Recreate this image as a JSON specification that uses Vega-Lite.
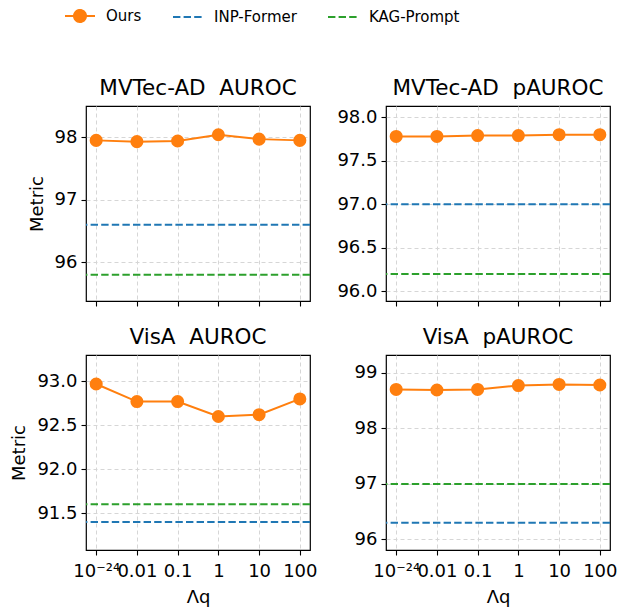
{
  "$schema": "https://vega.github.io/schema/vega-lite/v6.json",
  "padding": {"left": 10, "top": 0, "right": 5, "bottom": 5},
  "data": {"values": [
    {"panel": "A", "series": "Ours", "lam": "10⁻²⁴", "value": 97.95},
    {"panel": "A", "series": "Ours", "lam": "0.01", "value": 97.93},
    {"panel": "A", "series": "Ours", "lam": "0.1", "value": 97.94},
    {"panel": "A", "series": "Ours", "lam": "1", "value": 98.04},
    {"panel": "A", "series": "Ours", "lam": "10", "value": 97.97},
    {"panel": "A", "series": "Ours", "lam": "100", "value": 97.95},
    {"panel": "A", "series": "INP-Former", "value": 96.6},
    {"panel": "A", "series": "KAG-Prompt", "value": 95.8},
    {"panel": "B", "series": "Ours", "lam": "10⁻²⁴", "value": 97.78},
    {"panel": "B", "series": "Ours", "lam": "0.01", "value": 97.78},
    {"panel": "B", "series": "Ours", "lam": "0.1", "value": 97.79},
    {"panel": "B", "series": "Ours", "lam": "1", "value": 97.79},
    {"panel": "B", "series": "Ours", "lam": "10", "value": 97.80},
    {"panel": "B", "series": "Ours", "lam": "100", "value": 97.80},
    {"panel": "B", "series": "INP-Former", "value": 97.0},
    {"panel": "B", "series": "KAG-Prompt", "value": 96.2},
    {"panel": "C", "series": "Ours", "lam": "10⁻²⁴", "value": 92.97},
    {"panel": "C", "series": "Ours", "lam": "0.01", "value": 92.77},
    {"panel": "C", "series": "Ours", "lam": "0.1", "value": 92.77},
    {"panel": "C", "series": "Ours", "lam": "1", "value": 92.60},
    {"panel": "C", "series": "Ours", "lam": "10", "value": 92.62},
    {"panel": "C", "series": "Ours", "lam": "100", "value": 92.80},
    {"panel": "C", "series": "INP-Former", "value": 91.4},
    {"panel": "C", "series": "KAG-Prompt", "value": 91.6},
    {"panel": "D", "series": "Ours", "lam": "10⁻²⁴", "value": 98.70},
    {"panel": "D", "series": "Ours", "lam": "0.01", "value": 98.69},
    {"panel": "D", "series": "Ours", "lam": "0.1", "value": 98.70},
    {"panel": "D", "series": "Ours", "lam": "1", "value": 98.77},
    {"panel": "D", "series": "Ours", "lam": "10", "value": 98.79},
    {"panel": "D", "series": "Ours", "lam": "100", "value": 98.78},
    {"panel": "D", "series": "INP-Former", "value": 96.3},
    {"panel": "D", "series": "KAG-Prompt", "value": 97.0}
  ]},
  "columns": 2,
  "spacing": {"row": 17, "column": 18},
  "config": {
    "font": "DejaVu Sans",
    "view": {"stroke": "#000", "strokeWidth": 1.2},
    "axis": {"grid": true, "gridColor": "#d6d6d6", "gridDash": [4, 3], "gridWidth": 1, "domain": false, "tickColor": "#000", "tickSize": 5, "tickWidth": 1.1, "labelFontSize": 18, "labelColor": "#000", "titleFontSize": 18, "titleFontWeight": "normal", "titleColor": "#000", "labelPadding": 4},
    "title": {"fontSize": 21.5, "fontWeight": "normal", "color": "#000", "offset": 7}
  },
  "concat": [
    {
      "title": "MVTec-AD\u00a0\u00a0AUROC", "width": 224, "height": 195,
      "transform": [{"filter": "datum.panel === 'A'"}],
      "encoding": {
        "y": {"field": "value", "type": "quantitative", "scale": {"domain": [95.38, 98.5], "nice": false, "zero": false}, "axis": {"values": [96, 97, 98], "title": "Metric", "titlePadding": 8}},
        "color": {"field": "series", "type": "nominal", "scale": {"domain": ["Ours", "INP-Former", "KAG-Prompt"], "range": ["#ff7f0e", "#1f77b4", "#2ca02c"]},
          "legend": {"title": null, "orient": "none", "legendX": -22, "legendY": -106, "direction": "horizontal", "labelFontSize": 15, "symbolSize": 900, "symbolStrokeWidth": 2, "labelOffset": 10, "columnPadding": 27, "symbolType": "stroke",
            "encode": {"symbols": {"update": {
              "shape": {"signal": "datum.value === 'Ours' ? 'M-1,0H1M-0.4,0A0.4,0.4,0,1,0,0.4,0A0.4,0.4,0,1,0,-0.4,0Z' : 'stroke'"},
              "fill": {"signal": "datum.value === 'Ours' ? '#ff7f0e' : 'transparent'"},
              "strokeDash": {"signal": "datum.value === 'Ours' ? [1,0] : [7.4,3.2]"},
              "strokeWidth": {"value": 2},
              "opacity": {"value": 1}
            }}}}}
      },
      "layer": [
        {"transform": [{"filter": "datum.series !== 'Ours'"}], "mark": {"type": "rule", "strokeDash": [7.4, 3.2], "strokeWidth": 2}},
        {"transform": [{"filter": "datum.series === 'Ours'"}], "mark": {"type": "line", "strokeWidth": 2},
          "encoding": {"x": {"field": "lam", "type": "ordinal", "sort": ["10⁻²⁴", "0.01", "0.1", "1", "10", "100"], "scale": {"type": "point", "padding": 0.25}, "axis": {"labels": false, "title": null}}}},
        {"transform": [{"filter": "datum.series === 'Ours'"}], "mark": {"type": "point", "filled": true, "size": 170, "opacity": 1},
          "encoding": {"x": {"field": "lam", "type": "ordinal", "sort": ["10⁻²⁴", "0.01", "0.1", "1", "10", "100"], "scale": {"type": "point", "padding": 0.25}, "axis": {"labels": false, "title": null}}}}
      ]
    },
    {
      "title": "MVTec-AD\u00a0\u00a0pAUROC", "width": 224, "height": 195,
      "transform": [{"filter": "datum.panel === 'B'"}],
      "encoding": {
        "y": {"field": "value", "type": "quantitative", "scale": {"domain": [95.89, 98.13], "nice": false, "zero": false}, "axis": {"values": [96, 96.5, 97, 97.5, 98], "format": ".1f", "title": null}},
        "color": {"field": "series", "type": "nominal"}
      },
      "layer": [
        {"transform": [{"filter": "datum.series !== 'Ours'"}], "mark": {"type": "rule", "strokeDash": [7.4, 3.2], "strokeWidth": 2}},
        {"transform": [{"filter": "datum.series === 'Ours'"}], "mark": {"type": "line", "strokeWidth": 2},
          "encoding": {"x": {"field": "lam", "type": "ordinal", "sort": ["10⁻²⁴", "0.01", "0.1", "1", "10", "100"], "scale": {"type": "point", "padding": 0.25}, "axis": {"labels": false, "title": null}}}},
        {"transform": [{"filter": "datum.series === 'Ours'"}], "mark": {"type": "point", "filled": true, "size": 170, "opacity": 1},
          "encoding": {"x": {"field": "lam", "type": "ordinal", "sort": ["10⁻²⁴", "0.01", "0.1", "1", "10", "100"], "scale": {"type": "point", "padding": 0.25}, "axis": {"labels": false, "title": null}}}}
      ]
    },
    {
      "title": "VisA\u00a0\u00a0AUROC", "width": 224, "height": 195,
      "transform": [{"filter": "datum.panel === 'C'"}],
      "encoding": {
        "y": {"field": "value", "type": "quantitative", "scale": {"domain": [91.08, 93.3], "nice": false, "zero": false}, "axis": {"values": [91.5, 92, 92.5, 93], "format": ".1f", "title": "Metric", "titlePadding": 8}},
        "color": {"field": "series", "type": "nominal"}
      },
      "layer": [
        {"transform": [{"filter": "datum.series !== 'Ours'"}], "mark": {"type": "rule", "strokeDash": [7.4, 3.2], "strokeWidth": 2}},
        {"transform": [{"filter": "datum.series === 'Ours'"}], "mark": {"type": "line", "strokeWidth": 2},
          "encoding": {"x": {"field": "lam", "type": "ordinal", "sort": ["10⁻²⁴", "0.01", "0.1", "1", "10", "100"], "scale": {"type": "point", "padding": 0.25}, "axis": {"labelAngle": 0, "labelOverlap": false, "labelPadding": 7, "title": "Λq", "titlePadding": 8}}}},
        {"transform": [{"filter": "datum.series === 'Ours'"}], "mark": {"type": "point", "filled": true, "size": 170, "opacity": 1},
          "encoding": {"x": {"field": "lam", "type": "ordinal", "sort": ["10⁻²⁴", "0.01", "0.1", "1", "10", "100"], "scale": {"type": "point", "padding": 0.25}, "axis": {"labelAngle": 0, "labelOverlap": false, "labelPadding": 7, "title": "Λq", "titlePadding": 8}}}}
      ]
    },
    {
      "title": "VisA\u00a0\u00a0pAUROC", "width": 224, "height": 195,
      "transform": [{"filter": "datum.panel === 'D'"}],
      "encoding": {
        "y": {"field": "value", "type": "quantitative", "scale": {"domain": [95.81, 99.32], "nice": false, "zero": false}, "axis": {"values": [96, 97, 98, 99], "title": null}},
        "color": {"field": "series", "type": "nominal"}
      },
      "layer": [
        {"transform": [{"filter": "datum.series !== 'Ours'"}], "mark": {"type": "rule", "strokeDash": [7.4, 3.2], "strokeWidth": 2}},
        {"transform": [{"filter": "datum.series === 'Ours'"}], "mark": {"type": "line", "strokeWidth": 2},
          "encoding": {"x": {"field": "lam", "type": "ordinal", "sort": ["10⁻²⁴", "0.01", "0.1", "1", "10", "100"], "scale": {"type": "point", "padding": 0.25}, "axis": {"labelAngle": 0, "labelOverlap": false, "labelPadding": 7, "title": "Λq", "titlePadding": 8}}}},
        {"transform": [{"filter": "datum.series === 'Ours'"}], "mark": {"type": "point", "filled": true, "size": 170, "opacity": 1},
          "encoding": {"x": {"field": "lam", "type": "ordinal", "sort": ["10⁻²⁴", "0.01", "0.1", "1", "10", "100"], "scale": {"type": "point", "padding": 0.25}, "axis": {"labelAngle": 0, "labelOverlap": false, "labelPadding": 7, "title": "Λq", "titlePadding": 8}}}}
      ]
    }
  ]
}
